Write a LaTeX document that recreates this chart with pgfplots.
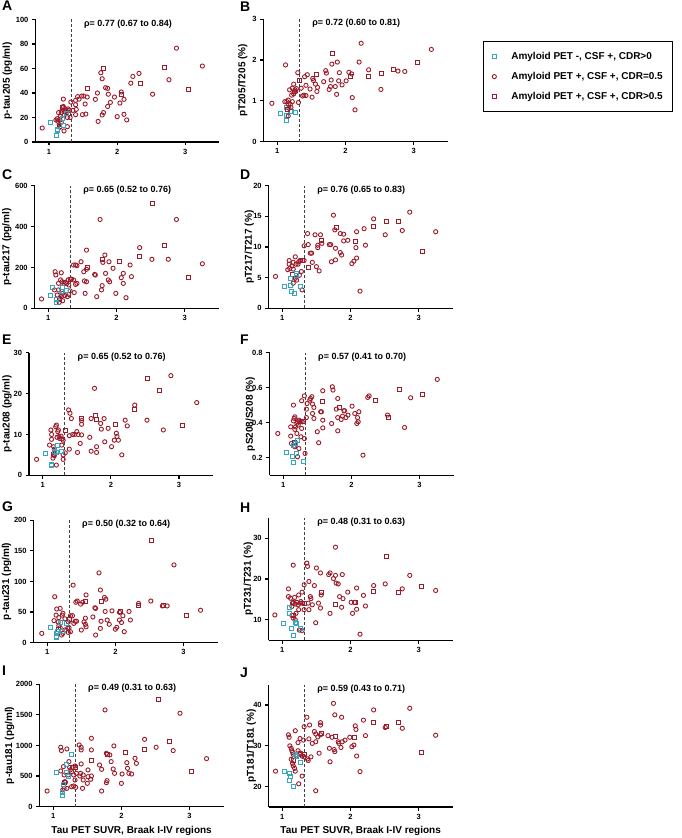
\documentclass[border=0pt]{standalone}
\usepackage{fontspec}
\setmainfont{Liberation Sans}
\usepackage{pgfplots}
\pgfplotsset{compat=1.18}
\definecolor{pred}{RGB}{155,28,42}
\definecolor{pcyan}{RGB}{54,165,190}

\pgfplotsset{
  panel/.style={
    scale only axis, width=184pt, height=122.5pt, anchor=south west,
    axis lines*=left, axis line style={line width=1.4pt,-},
    tick align=outside, major tick length=3.5pt,
    tick style={line width=1.2pt,black},
    xmin=0.8, xmax=3.5, xtick={1,2,3},
    /pgf/number format/assume math mode=true,
    /pgf/number format/1000 sep={},
    scaled ticks=false,
    tick label style={font=\bfseries\fontsize{7.5}{8}\selectfont},
    label style={font=\bfseries\fontsize{10}{11}\selectfont},
    ylabel style={rotate=0, anchor=center},
    clip=false,
  },
  yoff/.style={ylabel style={at={(axis description cs:-#1,0.5)}}},
  cyanpts/.style={only marks, mark=square, mark size=2pt, color=pcyan, line width=0.9pt},
  redcirc/.style={only marks, mark=o, mark size=2.1pt, color=pred, line width=0.9pt},
  redsq/.style={only marks, mark=square, mark size=2pt, color=pred, line width=0.9pt},
  cutoff/.style={densely dashed, line width=0.6pt, black!75, forget plot},
}
\newcommand{\rhonote}[1]{\node[anchor=west, font=\bfseries\fontsize{9}{10}\selectfont] at (rel axis cs:0.245,0.965) {#1};}
\newcommand{\plabel}[3]{\node[anchor=north west, inner sep=0pt, font=\bfseries\fontsize{14}{14}\selectfont] at (#1pt,#2pt) {#3};}

\begin{document}
\begin{tikzpicture}[x=1pt,y=1pt]
\path[use as bounding box] (0,0) rectangle (682,838);

% A
\begin{axis}[panel, yoff=0.152, at={(35.4pt,696pt)}, ymin=0, ymax=100, ytick={0,20,40,60,80,100}, ylabel={p-tau205 (pg/ml)}]
\addplot[cutoff] coordinates {(1.32,0) (1.32,100)};
\addplot[redcirc] coordinates {(0.90,11.4) (1.10,18) (1.12,19) (1.13,17) (1.14,24) (1.15,14) (1.16,12) (1.16,18) (1.17,21) (1.18,16) (1.18,24) (1.19,26) (1.20,28) (1.21,29) (1.21,35) (1.22,22) (1.23,25) (1.24,27) (1.25,26) (1.26,24) (1.27,20) (1.28,27) (1.29,23) (1.30,26) (1.22,9) (1.27,12.5) (1.31,20) (1.32,32.6) (1.35,25.8) (1.39,30.4) (1.39,34) (1.42,37) (1.44,35) (1.48,37.5) (1.51,37.5) (1.53,31) (1.54,22.8) (1.49,22.3) (1.56,36.7) (1.40,26.6) (1.39,22.3) (1.68,34.8) (1.71,40) (1.72,16.8) (1.76,56.5) (1.78,51.6) (1.78,22) (1.80,24) (1.83,44.3) (1.86,43.8) (1.87,39) (1.86,29) (1.90,32.3) (1.96,36.7) (2.00,20.7) (2.04,31.8) (2.06,40.8) (2.10,34.8) (2.10,22.6) (2.14,18) (2.20,48) (2.23,53.5) (2.32,56) (2.52,39) (2.76,50.8) (2.87,76.6) (3.25,62)};
\addplot[redsq] coordinates {(1.15,13) (1.20,28.5) (1.57,43.8) (1.80,60) (2.07,38.6) (2.34,48) (2.70,61) (3.05,42.7)};
\addplot[cyanpts] coordinates {(1.02,16) (1.11,5.7) (1.12,9.5) (1.13,10) (1.19,19.6) (1.21,13.9) (1.26,23)};
\rhonote{ρ= 0.77 (0.67 to 0.84)}
\end{axis}

% B
\begin{axis}[panel, yoff=0.113, at={(263.7pt,696.3pt)}, ymin=0, ymax=3, ytick={0,1,2,3}, ylabel={pT205/T205 (\%)},
  legend style={at={(1.19,0.823)}, anchor=north west, draw=black, line width=1.3pt,
    font=\bfseries\fontsize{10}{11}\selectfont, inner xsep=8pt, inner ysep=9pt, row sep=7pt},
  legend cell align=left,
  legend image code/.code={\draw[mark repeat=2, mark phase=1, #1] plot coordinates {(0pt,0pt) (15pt,0pt)};
    \path[draw=none, fill=none] (-3pt,0pt) rectangle (15pt,0pt);}]
\addplot[cutoff] coordinates {(1.32,0) (1.32,3)};
\addplot[cyanpts] coordinates {(1.04,0.68) (1.13,0.84) (1.14,0.65) (1.14,0.52) (1.19,0.75) (1.21,0.74) (1.27,0.72)};
\addplot[redcirc] coordinates {(0.92,0.94) (1.12,1.88) (1.11,0.98) (1.16,0.63) (1.14,0.98) (1.16,1.02) (1.19,0.92) (1.17,0.82) (1.20,0.84) (1.16,0.92) (1.21,1.14) (1.22,1.31) (1.24,1.41) (1.26,1.27) (1.27,1.23) (1.24,1.17) (1.18,1.27) (1.30,1.69) (1.31,0.96) (1.35,1.31) (1.37,1.12) (1.39,1.14) (1.40,1.59) (1.42,1.38) (1.44,1.64) (1.42,1.13) (1.48,1.29) (1.51,1.09) (1.52,1.55) (1.53,1.50) (1.56,1.41) (1.58,1.23) (1.59,1.33) (1.68,1.47) (1.71,1.74) (1.72,1.68) (1.76,1.28) (1.78,1.35) (1.79,1.51) (1.80,1.90) (1.85,1.35) (1.87,1.16) (1.88,1.95) (1.90,1.49) (1.91,1.69) (1.95,1.39) (2.01,1.49) (2.05,1.70) (2.09,1.66) (2.10,1.08) (2.14,0.78) (2.20,1.95) (2.23,2.41) (2.34,1.76) (2.52,1.28) (2.77,1.73) (2.87,1.72) (3.26,2.26) (1.25,1.22) (1.28,1.30) (1.22,0.98)};
\addplot[redsq] coordinates {(1.15,0.80) (1.32,1.51) (1.57,1.64) (1.81,2.17) (2.08,1.61) (2.34,1.59) (2.53,1.68) (2.70,1.76) (3.05,1.95)};
\legend{Amyloid PET -{,} CSF +{,} CDR>0, Amyloid PET +{,} CSF +{,} CDR=0.5, Amyloid PET +{,} CSF +{,} CDR>0.5}
\rhonote{ρ= 0.72 (0.60 to 0.81)}
\end{axis}

% C
\begin{axis}[panel, yoff=0.152, at={(34.7pt,529.7pt)}, ymin=0, ymax=600, ytick={0,200,400,600}, ylabel={p-tau217 (pg/ml)}]
\addplot[cutoff] coordinates {(1.32,0) (1.32,600)};
\addplot[redcirc] coordinates {(0.90,45.6) (1.10,179) (1.19,174) (1.11,163) (1.09,90) (1.15,122) (1.18,139) (1.20,130) (1.23,122) (1.25,127) (1.27,121) (1.29,139) (1.30,114) (1.13,65) (1.17,49) (1.19,57) (1.21,73) (1.24,62) (1.28,57) (1.30,68) (1.32,85) (1.15,90) (1.16,29) (1.21,37) (1.34,143) (1.37,139) (1.37,212) (1.40,212) (1.42,209) (1.40,117) (1.42,122) (1.38,77) (1.48,228) (1.52,179) (1.53,134) (1.56,130) (1.54,73) (1.56,285) (1.56,191) (1.68,166) (1.69,163) (1.71,57) (1.76,435) (1.79,111) (1.78,90) (1.80,225) (1.83,261) (1.84,171) (1.88,139) (1.89,228) (1.90,130) (1.95,196) (1.99,73) (2.07,150) (2.10,171) (2.10,122) (2.14,52) (2.20,212) (2.22,155) (2.34,297) (2.52,240) (2.76,240) (2.88,435) (3.26,218)};
\addplot[redsq] coordinates {(1.16,45) (1.33,140) (1.57,199) (1.80,241) (2.05,228) (2.33,256) (2.53,513) (2.70,310) (3.05,150)};
\addplot[cyanpts] coordinates {(1.03,65) (1.06,101) (1.12,41) (1.12,31) (1.19,81) (1.20,103) (1.27,88)};
\rhonote{ρ= 0.65 (0.52 to 0.76)}
\end{axis}

% D
\begin{axis}[panel, yoff=0.105, at={(268.7pt,529.7pt)}, ymin=0, ymax=20, ytick={0,5,10,15,20}, ylabel={pT217/T217 (\%)}]
\addplot[cutoff] coordinates {(1.32,0) (1.32,20)};
\addplot[redcirc] coordinates {(0.90,5.2) (1.10,7.8) (1.10,7.2) (1.08,6.3) (1.11,6.5) (1.14,6.9) (1.16,7.5) (1.19,8.4) (1.20,7.2) (1.23,7.2) (1.24,7.6) (1.26,7.8) (1.27,7.8) (1.32,7.8) (1.19,4.9) (1.21,4.6) (1.16,4.1) (1.25,5.4) (1.28,6.0) (1.29,3.0) (1.16,6.4) (1.32,10.2) (1.37,12.2) (1.38,10.4) (1.41,9.0) (1.43,9.0) (1.44,7.5) (1.48,12.0) (1.50,6.8) (1.52,10.3) (1.52,9.9) (1.54,6.1) (1.56,12.0) (1.58,10.6) (1.69,10.4) (1.71,10.4) (1.72,7.6) (1.75,15.2) (1.77,12.8) (1.78,9.8) (1.78,7.9) (1.85,12.2) (1.90,12.1) (1.85,9.1) (1.87,8.7) (1.90,11.0) (1.96,11.1) (2.02,7.3) (2.05,7.7) (2.08,9.9) (2.09,8.2) (2.09,12.5) (2.14,2.8) (2.20,13.0) (2.22,10.3) (2.34,14.6) (2.51,12.0) (2.76,12.7) (2.87,15.7) (3.25,12.5)};
\addplot[redsq] coordinates {(1.15,5.6) (1.30,7.8) (1.38,6.6) (1.57,11.0) (1.79,13.2) (2.08,10.9) (2.34,13.3) (2.53,14.1) (2.70,14.1) (3.05,9.2)};
\addplot[cyanpts] coordinates {(1.03,3.5) (1.12,3.7) (1.13,2.8) (1.18,2.5) (1.12,4.9) (1.20,5.7) (1.21,5.3) (1.27,3.5)};
\rhonote{ρ= 0.76 (0.65 to 0.83)}
\end{axis}

% E
\begin{axis}[panel, yoff=0.12, at={(29.1pt,362.7pt)}, ymin=0, ymax=30, ytick={0,10,20,30}, ylabel={p-tau208 (pg/ml)}]
\addplot[cutoff] coordinates {(1.32,0) (1.32,30)};
\addplot[redcirc] coordinates {(0.91,3.9) (1.10,7.4) (1.12,11.1) (1.13,10.0) (1.13,8.8) (1.16,7.0) (1.17,6.4) (1.18,5.4) (1.17,4.8) (1.15,4.2) (1.19,11.9) (1.20,12.3) (1.21,9.3) (1.22,10.7) (1.23,11.1) (1.24,9.5) (1.25,9.0) (1.27,9.6) (1.28,8.9) (1.30,8.6) (1.28,7.4) (1.20,2.5) (1.30,5.0) (1.30,3.9) (1.33,5.5) (1.38,16.0) (1.40,15.2) (1.42,13.9) (1.39,9.7) (1.39,6.4) (1.44,10.0) (1.47,10.0) (1.50,10.7) (1.52,10.0) (1.55,7.8) (1.51,5.6) (1.57,13.4) (1.57,12.5) (1.57,9.9) (1.69,9.3) (1.71,13.9) (1.71,5.9) (1.76,21.3) (1.79,7.0) (1.79,5.6) (1.85,12.7) (1.86,11.3) (1.90,13.9) (1.91,8.2) (1.96,11.5) (2.01,7.0) (2.05,8.6) (2.08,10.3) (2.09,9.5) (2.11,8.6) (2.16,5.0) (2.21,13.5) (2.24,12.1) (2.35,17.2) (2.53,13.5) (2.77,11.1) (2.88,24.4) (3.26,17.8)};
\addplot[redsq] coordinates {(1.16,5.2) (1.33,11.1) (1.57,13.9) (1.78,14.7) (1.79,13.7) (2.07,12.5) (2.35,16.1) (2.54,23.7) (2.71,20.7) (3.05,12.3)};
\addplot[cyanpts] coordinates {(1.04,5.4) (1.13,2.7) (1.13,2.3) (1.20,5.5) (1.21,7.4) (1.28,5.9) (1.17,5.8)};
\rhonote{ρ= 0.65 (0.52 to 0.76)}
\end{axis}

% F
\begin{axis}[panel, yoff=0.105, at={(269.6pt,362.7pt)}, ymin=0.1, ymax=0.8, ytick={0.2,0.4,0.6,0.8}, ylabel={pS208/S208 (\%)},
  yticklabel style={/pgf/number format/fixed, /pgf/number format/precision=1, /pgf/number format/fixed zerofill}]
\addplot[cutoff] coordinates {(1.32,0.1) (1.32,0.8)};
\addplot[redcirc] coordinates {(0.92,0.339) (1.11,0.324) (1.12,0.282) (1.11,0.377) (1.15,0.501) (1.15,0.411) (1.16,0.425) (1.17,0.434) (1.17,0.362) (1.18,0.377) (1.20,0.396) (1.21,0.406) (1.22,0.387) (1.23,0.415) (1.24,0.406) (1.26,0.406) (1.28,0.406) (1.20,0.339) (1.17,0.263) (1.21,0.206) (1.23,0.253) (1.26,0.320) (1.27,0.368) (1.31,0.310) (1.32,0.225) (1.27,0.526) (1.31,0.554) (1.34,0.478) (1.35,0.510) (1.34,0.430) (1.39,0.530) (1.40,0.539) (1.42,0.549) (1.43,0.507) (1.43,0.453) (1.45,0.425) (1.45,0.488) (1.50,0.349) (1.52,0.286) (1.55,0.463) (1.56,0.463) (1.58,0.583) (1.58,0.415) (1.58,0.371) (1.71,0.396) (1.72,0.606) (1.73,0.587) (1.78,0.478) (1.80,0.539) (1.80,0.430) (1.80,0.354) (1.85,0.419) (1.87,0.438) (1.89,0.469) (1.90,0.469) (1.92,0.430) (1.95,0.444) (2.01,0.495) (2.05,0.453) (2.08,0.396) (2.09,0.430) (2.10,0.406) (2.11,0.463) (2.17,0.215) (2.24,0.545) (2.26,0.554) (2.53,0.444) (2.78,0.373) (2.87,0.543) (3.26,0.648)};
\addplot[redsq] coordinates {(1.16,0.29) (1.30,0.406) (1.58,0.520) (1.82,0.488) (2.35,0.526) (2.54,0.430) (2.71,0.590) (3.05,0.562)};
\addplot[cyanpts] coordinates {(1.05,0.229) (1.14,0.210) (1.15,0.171) (1.20,0.225) (1.21,0.301) (1.18,0.282) (1.29,0.181) (1.15,0.27)};
\rhonote{ρ= 0.57 (0.41 to 0.70)}
\end{axis}

% G
\begin{axis}[panel, yoff=0.147, at={(33.6pt,195.3pt)}, ymin=0, ymax=200, ytick={0,50,100,150,200}, ylabel={p-tau231 (pg/ml)}]
\addplot[cutoff] coordinates {(1.32,0) (1.32,200)};
\addplot[redcirc] coordinates {(0.92,15.2) (1.11,75) (1.14,55) (1.19,56) (1.13,45) (1.10,36) (1.16,34) (1.17,41) (1.22,45) (1.23,48) (1.26,39) (1.31,34) (1.17,28) (1.19,24.5) (1.21,12.5) (1.23,15.2) (1.26,20.7) (1.30,23.4) (1.32,24.5) (1.31,16.8) (1.34,17.9) (1.34,44) (1.37,44) (1.38,94) (1.39,31.5) (1.42,66) (1.44,68) (1.43,35) (1.41,35) (1.49,63) (1.50,20.7) (1.52,66) (1.54,34) (1.56,40) (1.56,30) (1.57,78) (1.57,26) (1.67,42) (1.70,57) (1.71,56) (1.71,12.5) (1.76,114) (1.78,86) (1.79,35) (1.78,23.4) (1.84,74) (1.86,71) (1.85,51) (1.88,37) (1.91,30) (1.95,52) (2.00,22) (2.02,25) (2.06,37) (2.06,49.5) (2.09,33) (2.11,44) (2.13,18) (2.20,51) (2.22,37) (2.34,64) (2.52,68) (2.69,60) (2.76,60) (2.86,127) (3.25,53)};
\addplot[redsq] coordinates {(1.16,22) (1.33,38) (1.56,68) (1.80,67) (2.07,51) (2.34,60) (2.53,167) (2.70,61) (3.05,45)};
\addplot[cyanpts] coordinates {(1.04,24.5) (1.13,15.2) (1.13,10.9) (1.13,8.2) (1.15,19) (1.19,33) (1.22,19) (1.28,31.5)};
\rhonote{ρ= 0.50 (0.32 to 0.64)}
\end{axis}

% H
\begin{axis}[panel, yoff=0.111, at={(268.7pt,197.7pt)}, ymin=5, ymax=35, ytick={10,20,30}, ylabel={pT231/T231 (\%)}]
\addplot[cutoff] coordinates {(1.32,5) (1.32,35)};
\addplot[redcirc] coordinates {(0.89,11.2) (1.16,23.4) (1.09,17.6) (1.09,15.7) (1.12,15.3) (1.14,13.3) (1.15,14.1) (1.16,14.3) (1.18,15.5) (1.19,13.9) (1.21,14.3) (1.23,13.7) (1.24,16.1) (1.26,14.1) (1.27,14.5) (1.29,14.1) (1.29,16.8) (1.32,18.6) (1.14,11.1) (1.16,10.4) (1.19,10.0) (1.20,11.6) (1.24,12.5) (1.25,7.5) (1.29,7.4) (1.32,12.5) (1.36,23.9) (1.37,23.1) (1.39,19.4) (1.38,14.1) (1.39,12.5) (1.41,15.7) (1.42,15.2) (1.44,13.7) (1.47,18.4) (1.49,9.3) (1.50,22.7) (1.53,14.1) (1.56,21.5) (1.57,16.1) (1.56,12.9) (1.68,21.1) (1.70,21.5) (1.70,11.6) (1.75,20.1) (1.78,27.8) (1.78,20.9) (1.79,19.0) (1.82,18.8) (1.84,15.7) (1.87,13.1) (1.88,21.1) (1.89,15.2) (1.96,16.8) (2.01,14.3) (2.03,11.6) (2.06,14.3) (2.09,12.6) (2.09,17.8) (2.14,6.5) (2.19,16.0) (2.22,13.4) (2.34,18.4) (2.51,18.8) (2.76,17.6) (2.87,20.9) (3.25,17.2)};
\addplot[redsq] coordinates {(1.16,11.0) (1.33,14.0) (1.57,16.6) (1.78,13.9) (2.07,14.3) (2.34,17.0) (2.53,25.6) (2.70,16.7) (3.04,18.2)};
\addplot[cyanpts] coordinates {(1.01,9.2) (1.11,11.6) (1.10,13.0) (1.13,7.8) (1.17,6.3) (1.19,9.3) (1.20,9.2) (1.26,8.0)};
\rhonote{ρ= 0.48 (0.31 to 0.63)}
\end{axis}

% I
\begin{axis}[panel, yoff=0.163, at={(39.6pt,31.3pt)}, ymin=0, ymax=2000, ytick={0,500,1000,1500,2000}, ylabel={p-tau181 (pg/ml)},
  xlabel={Tau PET SUVR, Braak I-IV regions}]
\addplot[cutoff] coordinates {(1.32,0) (1.32,2000)};
\addplot[redcirc] coordinates {(0.91,256) (1.11,970) (1.12,916) (1.20,943) (1.11,583) (1.15,654) (1.16,518) (1.17,409) (1.18,398) (1.16,300) (1.14,273) (1.20,300) (1.22,518) (1.23,736) (1.24,643) (1.25,600) (1.27,572) (1.28,643) (1.30,518) (1.32,665) (1.27,327) (1.30,338) (1.33,316) (1.32,436) (1.34,545) (1.38,1008) (1.39,501) (1.40,545) (1.41,970) (1.44,518) (1.41,927) (1.41,698) (1.43,300) (1.44,436) (1.50,381) (1.51,490) (1.51,600) (1.55,447) (1.56,1117) (1.56,927) (1.56,501) (1.68,681) (1.71,610) (1.71,256) (1.76,1580) (1.78,872) (1.79,425) (1.78,392) (1.83,845) (1.85,736) (1.88,616) (1.89,992) (1.90,545) (2.00,381) (2.01,534) (2.08,719) (2.09,627) (2.11,545) (2.15,534) (2.20,790) (2.22,708) (2.34,1100) (2.51,970) (2.76,916) (2.86,1526) (3.25,785)};
\addplot[redsq] coordinates {(1.17,400) (1.33,640) (1.56,763) (1.79,861) (2.06,883) (2.34,927) (2.54,1744) (2.70,1063) (3.03,583)};
\addplot[cyanpts] coordinates {(1.04,556) (1.13,191) (1.14,229) (1.15,371) (1.19,556) (1.22,501) (1.27,856) (1.20,692)};
\rhonote{ρ= 0.49 (0.31 to 0.63)}
\end{axis}

% J
\begin{axis}[panel, yoff=0.095, at={(268.7pt,30.9pt)}, ymin=15, ymax=45, ytick={20,30,40}, ylabel={pT181/T181 (\%)},
  xlabel={Tau PET SUVR, Braak I-IV regions}]
\addplot[cutoff] coordinates {(1.32,15) (1.32,45)};
\addplot[redcirc] coordinates {(0.90,23.8) (1.09,32.7) (1.10,32.1) (1.19,33.7) (1.11,30.0) (1.13,29.4) (1.14,28.8) (1.15,28.4) (1.16,27.9) (1.13,26.7) (1.15,25.7) (1.16,25.1) (1.18,24.5) (1.19,23.8) (1.21,27.5) (1.23,28.8) (1.25,28.2) (1.26,27.9) (1.27,28.2) (1.29,27.5) (1.24,20.7) (1.29,22.6) (1.31,31.4) (1.26,31.8) (1.23,30.8) (1.32,34.7) (1.32,27.3) (1.36,37.0) (1.37,26.8) (1.38,26.4) (1.39,31.7) (1.40,35.1) (1.42,27.3) (1.44,30.6) (1.47,33.5) (1.49,32.9) (1.49,19.0) (1.49,31.0) (1.52,32.2) (1.54,28.2) (1.56,35.7) (1.56,35.1) (1.56,32.7) (1.67,32.5) (1.69,29.4) (1.70,26.1) (1.73,32.1) (1.75,40.4) (1.76,29.1) (1.77,28.6) (1.77,37.6) (1.82,31.0) (1.83,30.6) (1.86,29.6) (1.87,37.0) (1.88,31.0) (1.92,31.4) (1.99,32.1) (2.02,29.8) (2.05,30.2) (2.07,34.9) (2.08,34.0) (2.09,27.5) (2.14,23.7) (2.19,36.3) (2.22,32.5) (2.34,38.8) (2.51,34.5) (2.76,34.3) (2.87,39.2) (3.25,32.6)};
\addplot[redsq] coordinates {(1.16,26.5) (1.33,28) (1.57,33) (1.78,32.4) (2.06,32.1) (2.34,35.8) (2.53,34.7) (2.70,35.8) (3.04,28.4)};
\addplot[cyanpts] coordinates {(1.03,23.8) (1.11,23.3) (1.12,22.6) (1.11,21.5) (1.17,20.0) (1.20,27.3) (1.19,27.9) (1.27,26.0)};
\rhonote{ρ= 0.59 (0.43 to 0.71)}
\end{axis}

\plabel{2}{837}{A}
\plabel{240}{836}{B}
\plabel{2}{668}{C}
\plabel{240}{668}{D}
\plabel{2}{503}{E}
\plabel{240}{503}{F}
\plabel{2}{336}{G}
\plabel{240}{335}{H}
\plabel{2}{172}{I}
\plabel{240}{170}{J}
\end{tikzpicture}
\end{document}
